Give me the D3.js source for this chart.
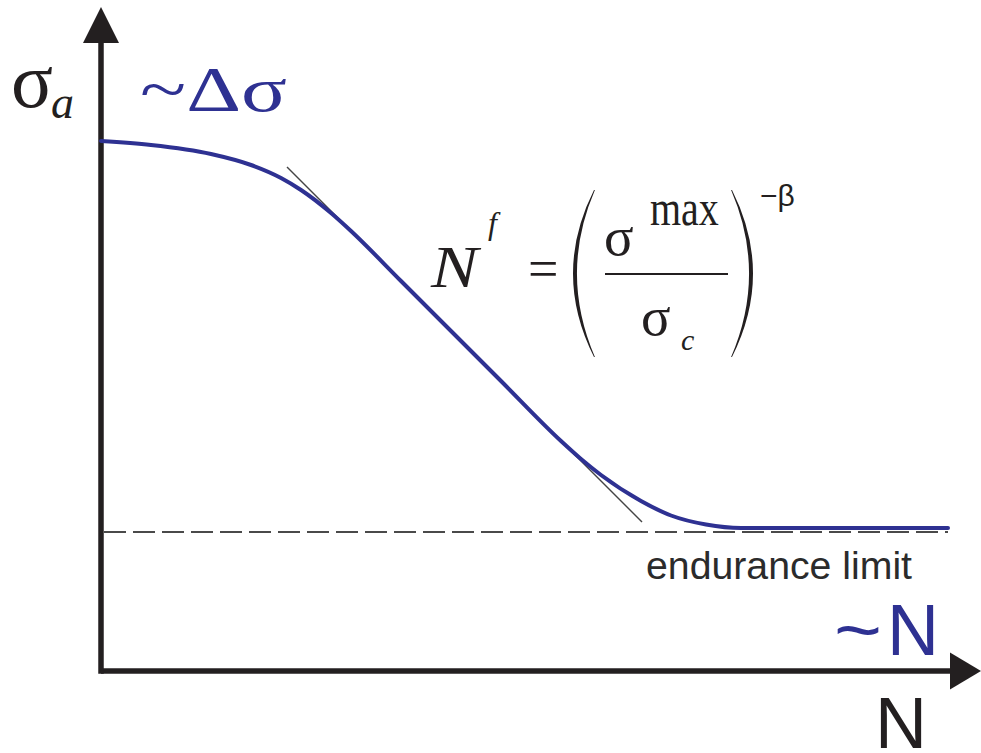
<!DOCTYPE html>
<html>
<head>
<meta charset="utf-8">
<script src="https://cdn.jsdelivr.net/npm/d3@7"></script>
<style>
  html, body { margin: 0; padding: 0; background: #fff; }
  svg { display: block; }
</style>
</head>
<body>
<svg id="chart" width="981" height="753"></svg>
<script>
// S–N (Wöhler) curve: stress amplitude vs. number of cycles, schematic units
const cycles = [0, 0.5, 1.1, 1.5, 1.8, 2.0, 2.3, 2.5, 3.0, 4.0, 4.6, 4.8, 5.0, 5.4, 5.7, 6.05, 6.4, 8.47];
const stress = [5.30, 5.26, 5.17, 5.06, 4.93, 4.81, 4.58, 4.40, 3.90, 2.90, 2.30, 2.12, 1.96, 1.70, 1.555, 1.465, 1.43, 1.43];

// endurance limit level and its span
const enduranceLimit = 1.39;
const enduranceSpan = [0, 8.47];

// tangent to the power-law (Basquin) part of the curve
const tangentX = [1.86, 5.41];
const tangentY = [5.04, 1.49];

const blue = "#2e3192";
const ink = "#231f20";

const svg = d3.select("#chart");

const x = d3.scaleLinear().domain([0, 8.5]).range([101, 951]);
const y = d3.scaleLinear().domain([0, 6.3]).range([671, 41]);

// axes with arrowheads
const axisG = svg.append("g");
axisG.append("line")
  .attr("x1", x(0)).attr("x2", x(8.5))
  .attr("y1", y(0)).attr("y2", y(0))
  .attr("stroke", ink).attr("stroke-width", 5.5);
axisG.append("line")
  .attr("x1", x(0)).attr("x2", x(0))
  .attr("y1", y(0) + 2.75).attr("y2", y(6.3))
  .attr("stroke", ink).attr("stroke-width", 5.5);
axisG.append("path")
  .attr("d", `M${x(0)},7 L${x(0) + 18},${y(6.3) + 2} L${x(0) - 18},${y(6.3) + 2} Z`)
  .attr("fill", ink);
axisG.append("path")
  .attr("d", `M981,${y(0)} L${x(8.5) - 1},${y(0) - 18.5} L${x(8.5) - 1},${y(0) + 18.5} Z`)
  .attr("fill", ink);

// endurance limit (dashed)
svg.append("line")
  .attr("x1", x(enduranceSpan[0]) + 3).attr("x2", x(enduranceSpan[1]))
  .attr("y1", y(enduranceLimit)).attr("y2", y(enduranceLimit))
  .attr("stroke", "#4a4a4a").attr("stroke-width", 2.2)
  .attr("stroke-dasharray", "22 7");

// tangent line
svg.append("line")
  .attr("x1", x(tangentX[0])).attr("y1", y(tangentY[0]))
  .attr("x2", x(tangentX[1])).attr("y2", y(tangentY[1]))
  .attr("stroke", "#444").attr("stroke-width", 1.4);

// S–N curve
const pts = cycles.map((c, i) => [c, stress[i]]);
const line = d3.line()
  .x(d => x(d[0]))
  .y(d => y(d[1]))
  .curve(d3.curveMonotoneX);
svg.append("path")
  .attr("d", line(pts))
  .attr("fill", "none")
  .attr("stroke", blue)
  .attr("stroke-width", 4)
  .attr("stroke-linecap", "round");

const serif = "'Liberation Serif', 'Times New Roman', serif";
const sans = "'Liberation Sans', Arial, sans-serif";

// y-axis label σ_a
const yl = svg.append("text").attr("x", 11).attr("y", 107)
  .attr("font-family", serif).attr("fill", ink);
yl.append("tspan").attr("font-size", 78).text("σ");
yl.append("tspan").attr("font-size", 46).attr("font-style", "italic")
  .attr("x", 51).attr("y", 118).text("a");

// ~Δσ
svg.append("text").attr("x", 140).attr("y", 111)
  .attr("font-family", serif).attr("font-size", 64).attr("fill", blue)
  .attr("textLength", 147).attr("lengthAdjust", "spacingAndGlyphs")
  .text("~Δσ");

// Basquin relation N^f = (σ^max / σ_c)^(−β)
const f = svg.append("g").attr("font-family", serif).attr("fill", ink);
f.append("text").attr("x", 431).attr("y", 287).attr("font-size", 60)
  .attr("font-style", "italic")
  .attr("textLength", 47).attr("lengthAdjust", "spacingAndGlyphs").text("N");
f.append("text").attr("x", 488).attr("y", 234).attr("font-size", 32)
  .attr("font-style", "italic").text("f");
f.append("text").attr("x", 528).attr("y", 287).attr("font-size", 54).text("=");
f.append("text").attr("x", 604).attr("y", 255).attr("font-size", 55).text("σ");
f.append("text").attr("x", 650).attr("y", 225).attr("font-size", 40)
  .attr("transform", "translate(650,225) scale(1,1.25) translate(-650,-225)").text("max");
f.append("line").attr("x1", 605).attr("x2", 728).attr("y1", 274).attr("y2", 274)
  .attr("stroke", ink).attr("stroke-width", 2);
f.append("text").attr("x", 641).attr("y", 335).attr("font-size", 55).text("σ");
f.append("text").attr("x", 681).attr("y", 350).attr("font-size", 30)
  .attr("font-style", "italic").text("c");
f.append("text").attr("x", 760).attr("y", 206).attr("font-size", 30)
  .attr("font-family", sans).text("−β");

// large parentheses: crescent outlines, thickest at mid-height
function paren(xEnd, xMid) {
  const t = 190, b = 357, m = (t + b) / 2;
  const s = Math.sign(xMid - xEnd);
  const cOut = 2 * xMid - xEnd;
  const cIn = cOut - s * 7;
  const e = xEnd - s * 0.9;
  return `M${xEnd},${t} Q${cOut},${m} ${xEnd},${b} L${e},${b} Q${cIn},${m} ${e},${t} Z`;
}
f.append("path").attr("d", paren(594, 573)).attr("fill", ink);
f.append("path").attr("d", paren(732, 753)).attr("fill", ink);

// endurance limit label
svg.append("text").attr("x", 646).attr("y", 579)
  .attr("font-family", sans).attr("font-size", 38).attr("fill", "#2b2b2b")
  .attr("textLength", 266).attr("lengthAdjust", "spacingAndGlyphs")
  .text("endurance limit");

// ~N and N
const tn = svg.append("text").attr("y", 655)
  .attr("font-family", sans).attr("font-size", 72).attr("fill", blue);
tn.append("tspan").attr("x", 834)
  .attr("textLength", 48).attr("lengthAdjust", "spacingAndGlyphs").text("~");
tn.append("tspan").attr("x", 887).text("N");
svg.append("text").attr("x", 875).attr("y", 748)
  .attr("font-family", sans).attr("font-size", 72).attr("fill", ink)
  .text("N");
</script>
</body>
</html>
